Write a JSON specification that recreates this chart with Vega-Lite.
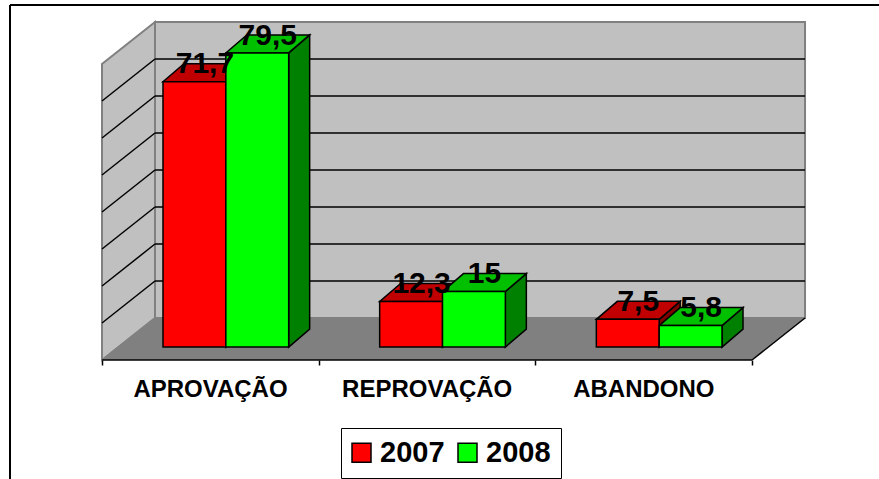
{
"$schema":"https://vega.github.io/schema/vega-lite/v6.json",
"width":869,"height":474,"autosize":{"type":"none"},"padding":{"left":10,"top":5,"right":0,"bottom":0},
"background":"white",
"view":{"stroke":null},
"config":{"font":"Liberation Sans"},
"datasets":{"dados":[
{"categoria":"APROVAÇÃO","ano":"2007","valor":71.7,"rotulo":"71,7"},
{"categoria":"APROVAÇÃO","ano":"2008","valor":79.5,"rotulo":"79,5"},
{"categoria":"REPROVAÇÃO","ano":"2007","valor":12.3,"rotulo":"12,3"},
{"categoria":"REPROVAÇÃO","ano":"2008","valor":15,"rotulo":"15"},
{"categoria":"ABANDONO","ano":"2007","valor":7.5,"rotulo":"7,5"},
{"categoria":"ABANDONO","ano":"2008","valor":5.8,"rotulo":"5,8"}
],
"um":[{"linha":1}],
"niveis":[{"nivel":10},{"nivel":20},{"nivel":30},{"nivel":40},{"nivel":50},{"nivel":60},{"nivel":70}],
"vertices2":[{"p":0},{"p":1}],
"vertices4":[{"p":0},{"p":1},{"p":2},{"p":3}]},
"layer":[
{"data":{"name":"vertices2"},
 "transform":[{"calculate":"datum.p*0.2446","as":"xs"},{"calculate":"datum.p*11.35","as":"y0"},{"calculate":"80+datum.p*11.35","as":"y1"}],
 "mark":{"type":"area","fill":"#c0c0c0","stroke":"#808080","strokeWidth":2},
 "encoding":{
  "x":{"field":"xs","type":"quantitative","title":null,
   "scale":{"domain":[-0.4246,3.586],"nice":false,"zero":false},
   "axis":{"values":[0,1,2,3],"domain":false,"grid":false,"title":null,"offset":-119,"tickSize":5,"tickWidth":1.5,"tickColor":"black",
    "labelExpr":"datum.value==0?'APROVAÇÃO':datum.value==1?'REPROVAÇÃO':datum.value==2?'ABANDONO':''",
    "labelOffset":108,"labelPadding":12,"labelFontSize":24,"labelFontWeight":"bold","labelColor":"black","labelFont":"Liberation Sans","labelOverlap":false,"labelFlush":false,"labelBound":false}},
  "y":{"field":"y0","type":"quantitative","stack":null,"title":null,
   "scale":{"domain":[-32.16,95.95],"nice":false,"zero":false},"axis":null},
  "y2":{"field":"y1"}}},
{"data":{"name":"um"},"mark":{"type":"rect","fill":"#c0c0c0","stroke":"#808080","strokeWidth":2},
 "encoding":{"x":{"datum":0.2446,"type":"quantitative","title":null},"x2":{"datum":3.2446},"y":{"datum":11.35,"type":"quantitative","axis":null},"y2":{"datum":91.35}}},
{"data":{"name":"vertices4"},
 "transform":[{"calculate":"[0,0.2446,3,3.2446][datum.p]","as":"xs"},{"calculate":"datum.p==3?11.35:0","as":"y0"},{"calculate":"datum.p==0?0:11.35","as":"y1"}],
 "mark":{"type":"area","fill":"#808080"},
 "encoding":{"x":{"field":"xs","type":"quantitative","title":null},"y":{"field":"y0","type":"quantitative","stack":null,"axis":null},"y2":{"field":"y1"}}},
{"data":{"name":"vertices2"},
 "transform":[{"calculate":"datum.p*0.2446","as":"xs"},{"calculate":"datum.p*11.35","as":"y0"}],
 "mark":{"type":"line","stroke":"#808080","strokeWidth":1.5},
 "encoding":{"x":{"field":"xs","type":"quantitative","title":null},"y":{"field":"y0","type":"quantitative","axis":null}}},
{"data":{"name":"niveis"},"transform":[{"calculate":"datum.nivel+11.35","as":"yf"}],
 "mark":{"type":"rule","stroke":"black","strokeWidth":1.5},
 "encoding":{"x":{"datum":0.2446,"type":"quantitative","title":null},"x2":{"datum":3.2446},"y":{"field":"yf","type":"quantitative","axis":null}}},
{"data":{"name":"niveis"},"transform":[{"calculate":"datum.nivel+11.35","as":"yf"}],
 "mark":{"type":"rule","stroke":"black","strokeWidth":1.5},
 "encoding":{"x":{"datum":0,"type":"quantitative","title":null},"x2":{"datum":0.2446},"y":{"field":"nivel","type":"quantitative","axis":null},"y2":{"field":"yf"}}},
{"data":{"name":"um"},"mark":{"type":"rule","stroke":"black","strokeWidth":1.5},
 "encoding":{"x":{"datum":0,"type":"quantitative","title":null},"x2":{"datum":3},"y":{"datum":0,"type":"quantitative","axis":null}}},
{"data":{"name":"um"},"mark":{"type":"rule","stroke":"black","strokeWidth":1.5},
 "encoding":{"x":{"datum":3,"type":"quantitative","title":null},"x2":{"datum":3.2446},"y":{"datum":0,"type":"quantitative","axis":null},"y2":{"datum":11.35}}},
{"data":{"name":"dados"},
 "transform":[
  {"calculate":"indexof(['APROVAÇÃO','REPROVAÇÃO','ABANDONO'],datum.categoria)+0.2815+(datum.ano=='2008'?0.29:0)","as":"xe"},
  {"calculate":"[0,1]","as":"p"},{"flatten":["p"]},
  {"calculate":"datum.xe+0.29+datum.p*0.0969","as":"xs"},
  {"calculate":"3.5+datum.p*4.865","as":"y0"},
  {"calculate":"datum.valor+3.5+datum.p*4.865","as":"y1"},
  {"calculate":"datum.ano+' lado'","as":"tom"}],
 "mark":{"type":"area","stroke":"black","strokeWidth":1.5},
 "encoding":{"x":{"field":"xs","type":"quantitative","title":null},"y":{"field":"y0","type":"quantitative","stack":null,"axis":null},"y2":{"field":"y1"},
  "detail":{"field":"categoria"},
  "color":{"field":"tom","type":"nominal"}}},
{"data":{"name":"dados"},
 "transform":[
  {"calculate":"indexof(['APROVAÇÃO','REPROVAÇÃO','ABANDONO'],datum.categoria)+0.2815+(datum.ano=='2008'?0.29:0)","as":"xe"},
  {"calculate":"[0,1,2,3]","as":"p"},{"flatten":["p"]},
  {"calculate":"datum.xe+[0,0.0969,0.29,0.3869][datum.p]","as":"xs"},
  {"calculate":"datum.valor+3.5+(datum.p==3?4.865:0)","as":"y0"},
  {"calculate":"datum.valor+3.5+(datum.p==0?0:4.865)","as":"y1"},
  {"calculate":"datum.ano+' topo'","as":"tom"}],
 "mark":{"type":"area","stroke":"black","strokeWidth":1.5},
 "encoding":{"x":{"field":"xs","type":"quantitative","title":null},"y":{"field":"y0","type":"quantitative","stack":null,"axis":null},"y2":{"field":"y1"},
  "detail":{"field":"categoria"},
  "color":{"field":"tom","type":"nominal"}}},
{"data":{"name":"dados"},
 "transform":[
  {"calculate":"indexof(['APROVAÇÃO','REPROVAÇÃO','ABANDONO'],datum.categoria)+0.2815+(datum.ano=='2008'?0.29:0)","as":"xe"},
  {"calculate":"datum.xe+0.29","as":"xd"},
  {"calculate":"datum.valor+3.5","as":"yt"},
  {"calculate":"3.5","as":"yb"}],
 "mark":{"type":"rect","stroke":"black","strokeWidth":1.5},
 "encoding":{"x":{"field":"xe","type":"quantitative","title":null},"x2":{"field":"xd"},"y":{"field":"yb","type":"quantitative","axis":null},"y2":{"field":"yt"},
  "color":{"field":"ano","type":"nominal",
   "scale":{"domain":["2007","2008","2007 topo","2008 topo","2007 lado","2008 lado"],"range":["#ff0000","#00ff00","#c00000","#00c000","#800000","#008000"]},
   "legend":{"values":["2007","2008"],"title":null,"orient":"none","legendX":331,"legendY":423,"columns":2,"direction":"horizontal",
    "symbolType":"square","symbolSize":361,"symbolStrokeColor":"black","symbolStrokeWidth":1.5,"symbolOffset":-4,
    "labelFontSize":29,"labelFontWeight":"bold","labelColor":"black","labelFont":"Liberation Sans","labelOffset":4,"columnPadding":10,
    "padding":10,"strokeColor":"black","fillColor":"white"}}}},
{"data":{"name":"dados"},
 "transform":[
  {"calculate":"indexof(['APROVAÇÃO','REPROVAÇÃO','ABANDONO'],datum.categoria)+0.2815+(datum.ano=='2008'?0.29:0)+0.145+0.0485","as":"xc"},
  {"calculate":"datum.valor+3.5+4.7","as":"yc"}],
 "mark":{"type":"text","fontSize":30,"fontWeight":"bold","font":"Liberation Sans","color":"black","baseline":"middle","align":"center"},
 "encoding":{"x":{"field":"xc","type":"quantitative","title":null},"y":{"field":"yc","type":"quantitative","axis":null},"text":{"field":"rotulo"}}},
{"data":{"name":"um"},"mark":{"type":"rule","stroke":"black","strokeWidth":2},
 "encoding":{"y":{"datum":95.95,"type":"quantitative","axis":null}}},
{"data":{"name":"um"},"mark":{"type":"rule","stroke":"black","strokeWidth":2},
 "encoding":{"x":{"datum":-0.4246,"type":"quantitative","title":null}}}
]}
